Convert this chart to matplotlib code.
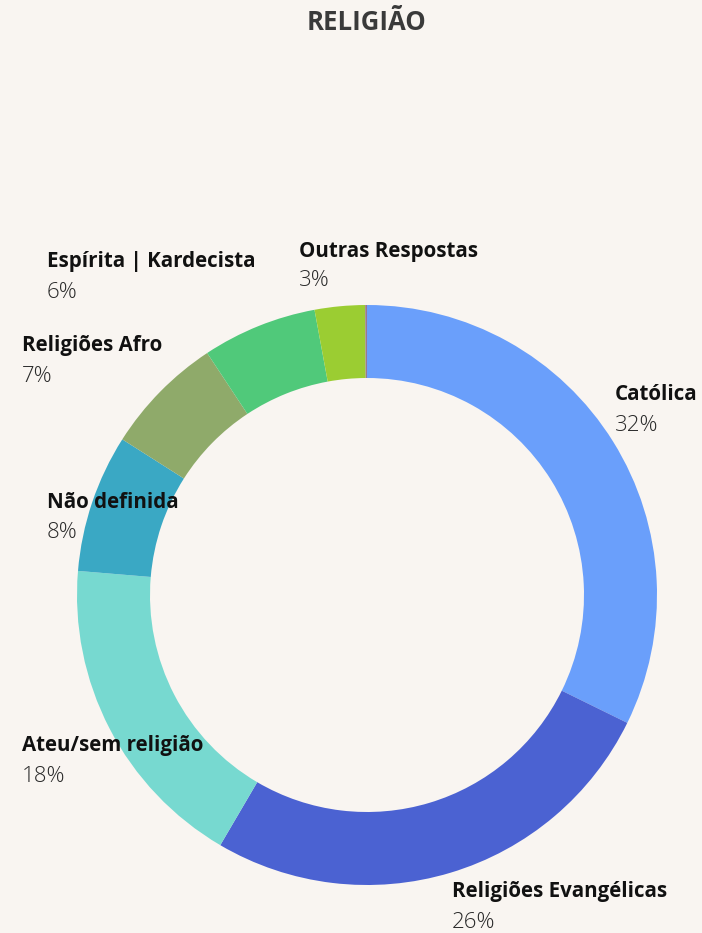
import matplotlib
matplotlib.use("Agg")
import matplotlib.pyplot as plt

categories = ["Católica", "Religiões Evangélicas", "Ateu/sem religião", "Não definida",
              "Religiões Afro", "Espírita | Kardecista", "Outras Respostas", ""]
shares = [32.3, 26.2, 17.9, 7.7, 6.7, 6.4, 2.8, 0.1]
colors = ["#6a9ffb", "#4b62d2", "#77d9d0", "#3aa8c4", "#8faa6a", "#50c97a", "#9bcd32", "#9a7a8c"]

# label anchors in pixels (left x, y of name line)
label_pos = [(615, 395), (452, 892), (22, 746), (47, 502), (22, 346), (47, 262), (299, 251)]

W, H = 702, 933
BG = "#f9f5f1"
plt.rcParams["font.family"] = ["Open Sans", "DejaVu Sans"]

fig = plt.figure(figsize=(W / 100, H / 100), dpi=100, facecolor=BG)
cx, cy, r = 367, 595, 290
ax = fig.add_axes([(cx - r) / W, (H - cy - r) / H, 2 * r / W, 2 * r / H])
ax.set_facecolor(BG)
ax.pie(shares, colors=colors, startangle=90, counterclock=False, radius=1,
       wedgeprops=dict(width=73 / 290, linewidth=0))
ax.set_xlim(-1, 1)
ax.set_ylim(-1, 1)
ax.set_aspect("equal")
ax.axis("off")

fig.text(cx / W, 1 - 22 / H, "RELIGIÃO", ha="center", va="center",
         fontsize=18.5, fontweight="bold", color="#3a3a3a")

for name, val, (x, y) in zip(categories, shares, label_pos):
    fig.text(x / W, 1 - y / H, name, ha="left", va="center",
             fontsize=14.8, fontweight="bold", color="#111111")
    fig.text(x / W, 1 - (y + 30) / H, f"{round(val)}%", ha="left", va="center",
             fontsize=16, fontweight="light", color="#2a2a2a")

fig.savefig("out.png", dpi=100, facecolor=BG)
